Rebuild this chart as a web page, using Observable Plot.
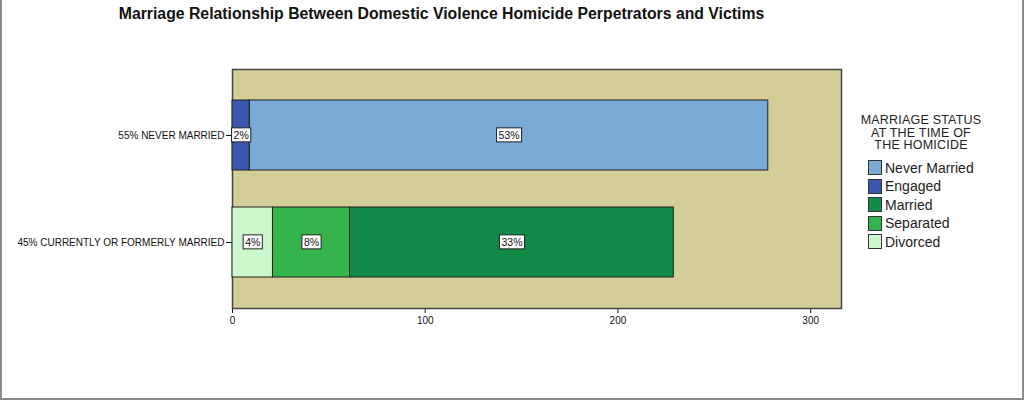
<!DOCTYPE html>
<html>
<head>
<meta charset="utf-8">
<script src="https://cdn.jsdelivr.net/npm/d3@7"></script>
<script src="https://cdn.jsdelivr.net/npm/@observablehq/plot@0.6"></script>
<style>
  html, body { margin: 0; padding: 0; background: #fff; }
  #wrap { position: relative; width: 1024px; height: 400px; overflow: hidden; font-family: "Liberation Sans", Arial, sans-serif; }
  #border { position: absolute; left: 0; top: 0; width: 1024px; height: 400px; box-sizing: border-box; border-left: 2px solid #8a8a8a; border-right: 2px solid #8a8a8a; border-bottom: 2px solid #8a8a8a; pointer-events: none; }
  #title { position: absolute; left: 0; top: 5px; width: 883px; text-align: center; font-weight: bold; font-size: 15.8px; color: #111; }
  #legend { position: absolute; left: 840px; top: 114px; width: 162px; color: #222; }
  #legend .lt { text-align: center; font-size: 12.5px; line-height: 12.5px; letter-spacing: 0.2px; margin-bottom: 7px; }
  #legend .it { display: flex; align-items: center; height: 18.5px; padding-left: 28px; font-size: 14px; }
  #legend .sw { width: 12px; height: 13px; border: 1px solid #333; margin-right: 3px; box-sizing: content-box; }
  #chart { position: absolute; left: 0; top: 0; }
</style>
</head>
<body>
<div id="wrap">
  <div id="chart"></div>
  <div id="title">Marriage Relationship Between Domestic Violence Homicide Perpetrators and Victims</div>
  <div id="legend"></div>
  <div id="border"></div>
</div>
<script>
// Categories (bar groups, top to bottom)
const groups = ["55% NEVER MARRIED", "45% CURRENTLY OR FORMERLY MARRIED"];
// Legend order of statuses and their colours
const statuses = ["Never Married", "Engaged", "Married", "Separated", "Divorced"];
const statusColors = ["#79a9d7", "#3a56ad", "#118b47", "#34b44a", "#cdf8cd"];
const legendTitle = ["MARRIAGE STATUS", "AT THE TIME OF", "THE HOMICIDE"];
// Segments in stacking order (left to right)
const segGroup  = ["55% NEVER MARRIED", "55% NEVER MARRIED", "45% CURRENTLY OR FORMERLY MARRIED", "45% CURRENTLY OR FORMERLY MARRIED", "45% CURRENTLY OR FORMERLY MARRIED"];
const segStatus = ["Engaged", "Never Married", "Divorced", "Separated", "Married"];
const segCount  = [9, 269, 21, 40, 168];
const segLabel  = ["2%", "53%", "4%", "8%", "33%"];
const xTicks = [0, 100, 200, 300];
const xMax = 316;

const data = segStatus.map((s, i) => ({group: segGroup[i], status: s, count: segCount[i], label: segLabel[i]}));

const plot = Plot.plot({
  width: 1024,
  height: 400,
  marginTop: 69,
  marginBottom: 92,
  marginLeft: 232,
  marginRight: 183,
  style: {fontFamily: "'Liberation Sans', Arial, sans-serif", fontSize: "10px", color: "#111", background: "transparent", overflow: "visible"},
  x: {domain: [0, xMax], ticks: xTicks, tickSize: 5, tickPadding: 3, label: null, tickFormat: d => String(d)},
  y: {domain: groups, paddingInner: 0.35, paddingOuter: 0.283, tickSize: 6, tickPadding: 2, label: null},
  color: {domain: statuses, range: statusColors},
  marks: [
    Plot.frame({fill: "#d3cd98", stroke: "#444", strokeWidth: 1.5}),
    Plot.barX(data, Plot.stackX({x: "count", y: "group", z: "status", fill: "status", stroke: "#222", strokeWidth: 1})),
    Plot.text(data, Plot.stackX({x: "count", y: "group", z: "status", text: "label", fill: "#111", fontSize: 10.5}))
  ]
});
document.getElementById("chart").appendChild(plot);

// white boxes behind the segment labels, sized from the rendered text
plot.querySelectorAll('g[aria-label="text"] text').forEach(t => {
  const b = t.getBBox();
  const r = document.createElementNS("http://www.w3.org/2000/svg", "rect");
  r.setAttribute("x", b.x - 2);
  r.setAttribute("y", b.y - 1);
  r.setAttribute("width", b.width + 4);
  r.setAttribute("height", b.height + 2);
  r.setAttribute("fill", "#fff");
  r.setAttribute("stroke", "#222");
  r.setAttribute("stroke-width", 1);
  const tr = t.getAttribute("transform");
  if (tr) r.setAttribute("transform", tr);
  t.parentNode.insertBefore(r, t);
});

// legend
const lg = document.getElementById("legend");
const lt = document.createElement("div");
lt.className = "lt";
lt.innerHTML = legendTitle.join("<br>");
lg.appendChild(lt);
statuses.forEach((s, i) => {
  const it = document.createElement("div");
  it.className = "it";
  const sw = document.createElement("span");
  sw.className = "sw";
  sw.style.background = statusColors[i];
  it.appendChild(sw);
  it.appendChild(document.createTextNode(s));
  lg.appendChild(it);
});
</script>
</body>
</html>
